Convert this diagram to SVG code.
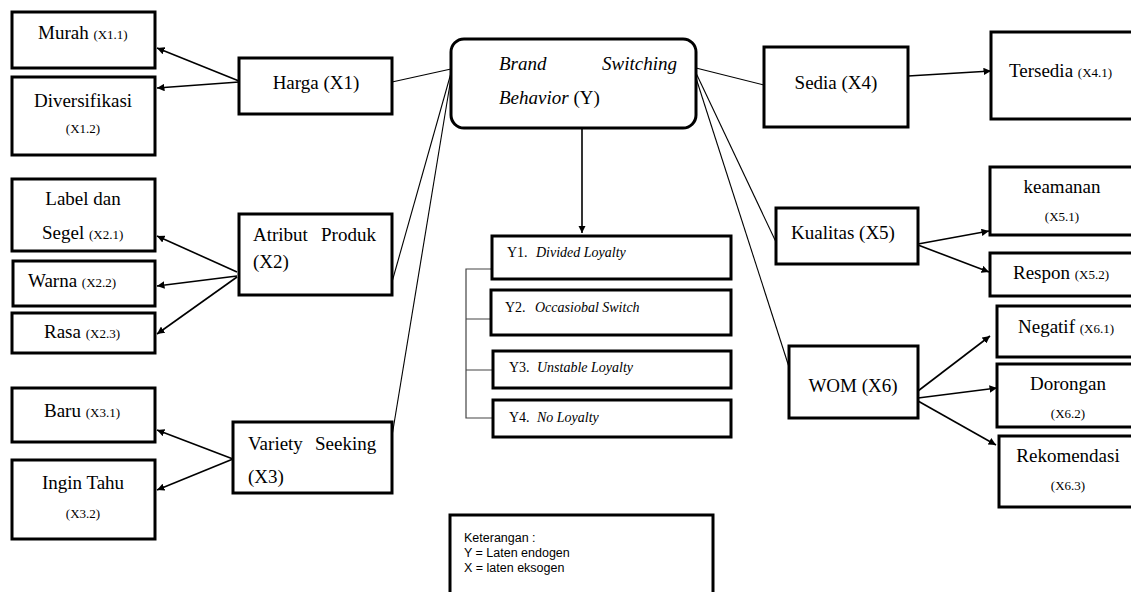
<svg xmlns="http://www.w3.org/2000/svg" width="1131" height="592" viewBox="0 0 1131 592">
<style>
.box{fill:#fff;stroke:#000;stroke-width:3}
.t{font-family:"Liberation Serif","Times New Roman",serif;font-size:19px;fill:#000}
.s{font-size:13px}
.i{font-style:italic}
.y{font-family:"Liberation Serif","Times New Roman",serif;font-size:14px;fill:#000}
.k{font-family:"Liberation Sans",Arial,sans-serif;font-size:12.5px;fill:#000}
.a{stroke:#000;stroke-width:1.6;fill:none;marker-end:url(#ah)}
.l{stroke:#000;stroke-width:1.1;fill:none}
.g{stroke:#444;stroke-width:1.2;fill:none}
</style>
<defs>
<marker id="ah" viewBox="0 0 10 10" refX="10" refY="5" markerWidth="7.5" markerHeight="7.5" markerUnits="userSpaceOnUse" orient="auto">
<path d="M0,0 L10,5 L0,10 z" fill="#000"/>
</marker>
</defs>
<rect width="1131" height="592" fill="#fff"/>

<g id="connectors">
<line class="a" x1="239" y1="81" x2="157" y2="48"/>
<line class="a" x1="239" y1="82" x2="157" y2="88"/>
<line class="a" x1="237" y1="272" x2="157" y2="236"/>
<line class="a" x1="237" y1="276" x2="157" y2="286"/>
<line class="a" x1="237" y1="277" x2="157" y2="334"/>
<line class="a" x1="233" y1="459" x2="157" y2="430"/>
<line class="a" x1="233" y1="459" x2="157" y2="490"/>
<line class="l" x1="451" y1="69" x2="392" y2="82"/>
<line class="l" x1="451" y1="73" x2="392" y2="282"/>
<line class="l" x1="451" y1="78" x2="392" y2="436"/>
<line class="l" x1="696" y1="68" x2="764" y2="85"/>
<line class="l" x1="696" y1="73" x2="776" y2="242"/>
<line class="l" x1="696" y1="78" x2="789" y2="367"/>
<line class="a" x1="582" y1="129" x2="582" y2="233"/>
<line class="a" x1="908" y1="76" x2="991" y2="71"/>
<line class="a" x1="918" y1="244" x2="989" y2="231"/>
<line class="a" x1="918" y1="245" x2="989" y2="272"/>
<line class="a" x1="918" y1="391" x2="990" y2="336"/>
<line class="a" x1="918" y1="398" x2="997" y2="388"/>
<line class="a" x1="918" y1="401" x2="996" y2="445"/>
<path class="g" d="M492,269 H466 V418 H493 M466,319 H491 M466,370 H493"/>
</g>

<g id="murah"><rect class="box" x="12" y="12" width="143" height="56"/><text class="t" x="38" y="39">Murah <tspan class="s">(X1.1)</tspan></text></g>
<g id="diversifikasi"><rect class="box" x="12" y="77" width="143" height="78"/><text class="t" x="83" y="107" text-anchor="middle">Diversifikasi</text><text class="t s" x="83" y="133" text-anchor="middle">(X1.2)</text></g>
<g id="harga"><rect class="box" x="239" y="58" width="153" height="56"/><text class="t" x="316" y="89" text-anchor="middle">Harga (X1)</text></g>

<g id="label"><rect class="box" x="12" y="179" width="143" height="72"/><text class="t" x="83" y="205" text-anchor="middle">Label dan</text><text class="t" x="42" y="239">Segel <tspan class="s">(X2.1)</tspan></text></g>
<g id="warna"><rect class="box" x="13" y="261" width="142" height="45"/><text class="t" x="28" y="287">Warna <tspan class="s">(X2.2)</tspan></text></g>
<g id="rasa"><rect class="box" x="12" y="313" width="143" height="40"/><text class="t" x="44" y="338">Rasa <tspan class="s">(X2.3)</tspan></text></g>
<g id="atribut"><rect class="box" x="239" y="214" width="153" height="81"/><text class="t" x="253" y="241">Atribut <tspan x="321">Produk</tspan></text><text class="t" x="253" y="268">(X2)</text></g>

<g id="baru"><rect class="box" x="12" y="388" width="143" height="54"/><text class="t" x="44" y="417">Baru <tspan class="s">(X3.1)</tspan></text></g>
<g id="ingin"><rect class="box" x="12" y="460" width="143" height="79"/><text class="t" x="83" y="489" text-anchor="middle">Ingin Tahu</text><text class="t s" x="83" y="518" text-anchor="middle">(X3.2)</text></g>
<g id="variety"><rect class="box" x="233" y="422" width="159" height="71"/><text class="t" x="248" y="450">Variety <tspan x="315">Seeking</tspan></text><text class="t" x="248" y="483">(X3)</text></g>

<g id="brand"><rect class="box" x="451" y="39" width="245" height="89" rx="13"/><text class="t i" x="499" y="70">Brand</text><text class="t i" x="677" y="70" text-anchor="end">Switching</text><text class="t" x="499" y="104"><tspan class="i">Behavior</tspan> (Y)</text></g>

<g id="y1"><rect class="box" x="492" y="236" width="239" height="43"/><text class="y" x="507" y="257">Y1.<tspan class="i" x="536">Divided Loyalty</tspan></text></g>
<g id="y2"><rect class="box" x="491" y="290" width="240" height="45"/><text class="y" x="505" y="312">Y2.<tspan class="i" x="535">Occasiobal Switch</tspan></text></g>
<g id="y3"><rect class="box" x="493" y="351" width="238" height="37"/><text class="y" x="509" y="372">Y3.<tspan class="i" x="537">Unstable Loyalty</tspan></text></g>
<g id="y4"><rect class="box" x="493" y="400" width="238" height="37"/><text class="y" x="509" y="422">Y4.<tspan class="i" x="537">No Loyalty</tspan></text></g>

<g id="sedia"><rect class="box" x="764" y="47" width="144" height="80"/><text class="t" x="836" y="89" text-anchor="middle">Sedia (X4)</text></g>
<g id="tersedia"><rect class="box" x="991" y="32" width="150" height="87"/><text class="t" x="1009" y="77">Tersedia <tspan class="s">(X4.1)</tspan></text></g>

<g id="kualitas"><rect class="box" x="776" y="208" width="142" height="56"/><text class="t" x="791" y="239">Kualitas (X5)</text></g>
<g id="keamanan"><rect class="box" x="990" y="167" width="151" height="68"/><text class="t" x="1062" y="193" text-anchor="middle">keamanan</text><text class="t s" x="1062" y="221" text-anchor="middle">(X5.1)</text></g>
<g id="respon"><rect class="box" x="990" y="253" width="151" height="43"/><text class="t" x="1013" y="279">Respon <tspan class="s">(X5.2)</tspan></text></g>

<g id="wom"><rect class="box" x="789" y="346" width="129" height="72"/><text class="t" x="853" y="392" text-anchor="middle">WOM (X6)</text></g>
<g id="negatif"><rect class="box" x="997" y="306" width="144" height="51"/><text class="t" x="1018" y="333">Negatif <tspan class="s">(X6.1)</tspan></text></g>
<g id="dorongan"><rect class="box" x="997" y="364" width="144" height="63"/><text class="t" x="1068" y="390" text-anchor="middle">Dorongan</text><text class="t s" x="1068" y="418" text-anchor="middle">(X6.2)</text></g>
<g id="rekomendasi"><rect class="box" x="999" y="436" width="142" height="71"/><text class="t" x="1068" y="462" text-anchor="middle">Rekomendasi</text><text class="t s" x="1068" y="490" text-anchor="middle">(X6.3)</text></g>

<g id="keterangan"><rect class="box" x="450" y="515" width="263" height="90"/><text class="k" x="464" y="542">Keterangan :</text><text class="k" x="464" y="557">Y = Laten endogen</text><text class="k" x="464" y="572">X = laten eksogen</text></g>
</svg>
